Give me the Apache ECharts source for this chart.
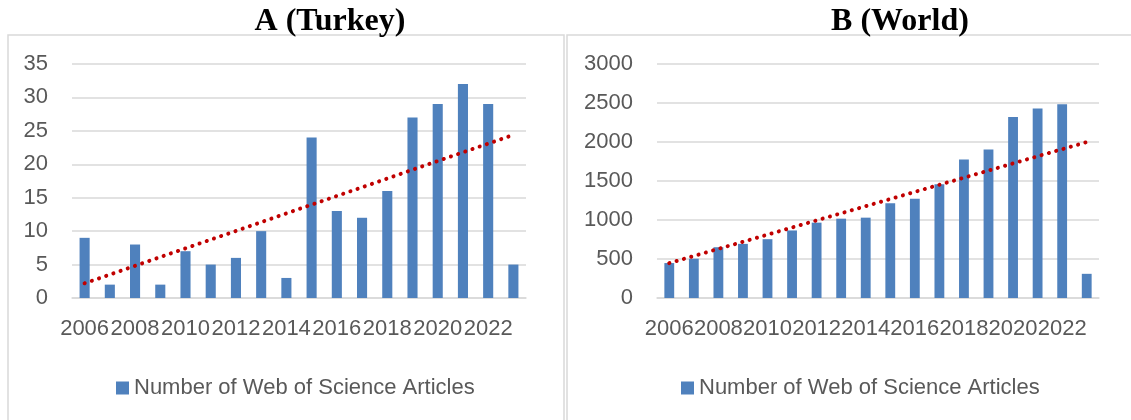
<!DOCTYPE html>
<html>
<head>
<meta charset="utf-8">
<script src="https://cdn.jsdelivr.net/npm/echarts@6/dist/echarts.min.js"></script>
<style>
  html, body { margin: 0; padding: 0; background: #fff; }
  #main { width: 1131px; height: 420px; }
</style>
</head>
<body>
<div id="main"></div>
<script type="text/javascript">
    // years on the category axis
    var years = ['2006','2007','2008','2009','2010','2011','2012','2013','2014',
                 '2015','2016','2017','2018','2019','2020','2021','2022','2023'];
    // A (Turkey)
    var turkey = [9, 2, 8, 2, 7, 5, 6, 10, 3, 24, 13, 12, 16, 27, 29, 32, 29, 5];
    // B (World)
    var world = [448, 504, 651, 694, 754, 866, 966, 1017, 1030, 1216, 1272, 1457,
                 1776, 1905, 2320, 2429, 2484, 310];
    // linear trend line, start / end values
    var trendTurkey = [2.2, 24.4];
    var trendWorld = [447, 1999];

    var seriesName = 'Number of Web of Science Articles';
    var textColor = '#595959';
    var gridColor = '#d9d9d9';
    var barColor = '#4f81bd';
    var trendColor = '#c00000';
    var font = 'Liberation Sans';
    var fontSize = 22;

    function xAxisFor(idx) {
        return {
            type: 'category',
            gridIndex: idx,
            data: years,
            axisTick: { show: false },
            axisLine: { lineStyle: { color: gridColor, width: 1.5 } },
            axisLabel: { interval: 1, margin: 20, color: textColor, fontSize: fontSize, fontFamily: font }
        };
    }
    function yAxisFor(idx, max, step) {
        return {
            type: 'value',
            gridIndex: idx,
            min: 0, max: max, interval: step,
            axisLine: { show: false },
            axisTick: { show: false },
            splitLine: { lineStyle: { color: gridColor, width: 1.5 } },
            axisLabel: {
                margin: 24, color: textColor, fontSize: fontSize, fontFamily: font,
                formatter: function (v) { return String(v); }
            }
        };
    }
    function trendLine(vals) {
        return {
            silent: true,
            symbol: ['none', 'none'],
            label: { show: false },
            lineStyle: { color: trendColor, width: 4, type: [0.1, 7.5], cap: 'round' },
            data: [[
                { coord: [years[0], vals[0]] },
                { coord: [years[years.length - 1], vals[1]] }
            ]]
        };
    }

    var myChart = echarts.init(document.getElementById('main'));
    var option = {
        animation: false,
        title: [
            {
                text: 'A (Turkey)', left: 325, top: 1, textAlign: 'center',
                textStyle: { fontFamily: 'Liberation Serif', fontWeight: 'bold', fontSize: 32, color: '#000' }
            },
            {
                text: 'B (World)', left: 895, top: 1, textAlign: 'center',
                textStyle: { fontFamily: 'Liberation Serif', fontWeight: 'bold', fontSize: 32, color: '#000' }
            }
        ],
        graphic: [
            { type: 'rect', shape: { x: 8, y: 35, width: 556, height: 420 }, style: { fill: 'none', stroke: gridColor, lineWidth: 1.5 }, z: -1 },
            { type: 'rect', shape: { x: 567, y: 35, width: 580, height: 420 }, style: { fill: 'none', stroke: gridColor, lineWidth: 1.5 }, z: -1 }
        ],
        legend: [
            {
                data: [seriesName], left: 111, top: 372, icon: 'rect', itemWidth: 13, itemHeight: 13,
                selectedMode: false, textStyle: { color: textColor, fontSize: fontSize, fontFamily: font }
            },
            {
                data: [seriesName], left: 676, top: 372, icon: 'rect', itemWidth: 13, itemHeight: 13,
                selectedMode: false, textStyle: { color: textColor, fontSize: fontSize, fontFamily: font }
            }
        ],
        grid: [
            { left: 72, top: 64, width: 454, height: 234 },
            { left: 657, top: 64, width: 442, height: 234 }
        ],
        xAxis: [xAxisFor(0), xAxisFor(1)],
        yAxis: [yAxisFor(0, 35, 5), yAxisFor(1, 3000, 500)],
        series: [
            {
                name: seriesName,
                type: 'bar',
                xAxisIndex: 0, yAxisIndex: 0,
                barWidth: '40%',
                itemStyle: { color: barColor },
                data: turkey,
                markLine: trendLine(trendTurkey)
            },
            {
                name: seriesName,
                type: 'bar',
                xAxisIndex: 1, yAxisIndex: 1,
                barWidth: '40%',
                itemStyle: { color: barColor },
                data: world,
                markLine: trendLine(trendWorld)
            }
        ]
    };
    myChart.setOption(option);
</script>
</body>
</html>
